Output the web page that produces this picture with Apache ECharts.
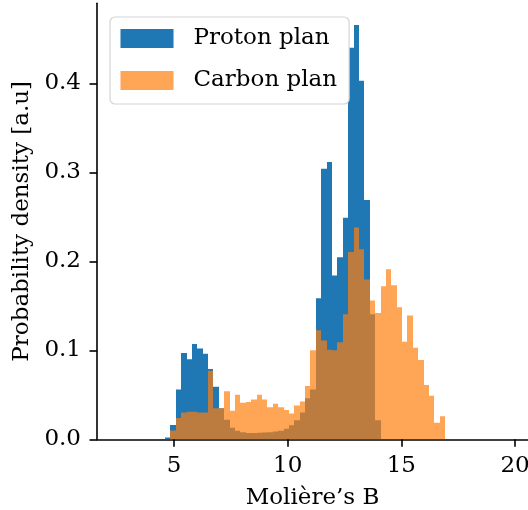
<!DOCTYPE html>
<html>
<head>
<meta charset="utf-8">
<script src="https://cdn.jsdelivr.net/npm/echarts@6/dist/echarts.min.js"></script>
<style>
  html, body { margin: 0; padding: 0; background: #fff; }
  #chart { width: 528px; height: 510px; }
</style>
</head>
<body>
<div id="chart"></div>
<script>
// Histogram bin edges (Molière's B)
const binEdges = [4.604, 4.841, 5.078, 5.315, 5.552, 5.789, 6.026, 6.263, 6.500, 6.737,
  6.974, 7.211, 7.448, 7.685, 7.922, 8.159, 8.396, 8.633, 8.870, 9.107,
  9.344, 9.581, 9.818, 10.055, 10.292, 10.529, 10.766, 11.003, 11.240, 11.477,
  11.714, 11.951, 12.188, 12.425, 12.662, 12.899, 13.136, 13.373, 13.610, 13.847,
  14.084, 14.321, 14.558, 14.795, 15.032, 15.269, 15.506, 15.743, 15.980, 16.217,
  16.454, 16.691, 16.928];

const protonDensity = [0.002, 0.016, 0.056, 0.097, 0.090, 0.107, 0.102, 0.096, 0.079, 0.059,
  0.035, 0.022, 0.013, 0.0095, 0.008, 0.0072, 0.0072, 0.0073, 0.0076, 0.008,
  0.0088, 0.0097, 0.0118, 0.0157, 0.0215, 0.030, 0.046, 0.056, 0.1586, 0.304,
  0.3115, 0.184, 0.2046, 0.2488, 0.44, 0.4655, 0.403, 0.269, 0.1405, 0.0215,
  0, 0, 0, 0, 0, 0, 0, 0, 0, 0, 0, 0];

const carbonDensity = [0, 0.010, 0.024, 0.030, 0.031, 0.031, 0.030, 0.030, 0.077, 0.035,
  0.035, 0.054, 0.032, 0.050, 0.041, 0.042, 0.0446, 0.050, 0.0446, 0.036,
  0.040, 0.036, 0.033, 0.029, 0.038, 0.0426, 0.060, 0.100, 0.1225, 0.111,
  0.1005, 0.100, 0.109, 0.1405, 0.2104, 0.238, 0.2135, 0.1796, 0.156, 0.142,
  0.172, 0.191, 0.173, 0.1485, 0.1095, 0.139, 0.103, 0.089, 0.061, 0.049,
  0.0187, 0.026];

const seriesNames = ['Proton plan', 'Carbon plan'];
const xTicks = [5, 10, 15, 20];
const yTicks = [0, 0.1, 0.2, 0.3, 0.4];

const FONT = 'DejaVu Serif';
const FS = 23;
const BLUE = '#1f77b4';
const ORANGE = 'rgba(255,127,14,0.7)';

function toBins(values) {
  const out = [];
  for (let i = 0; i < values.length; i++) {
    out.push([binEdges[i], binEdges[i + 1], values[i]]);
  }
  return out;
}

function makeRender(color) {
  return function (params, api) {
    const x0 = api.value(0), x1 = api.value(1), y = api.value(2);
    if (!(y > 0)) return null;
    const pTop = api.coord([x0, y]);
    const pBot = api.coord([x1, 0]);
    const left = Math.round(pTop[0]);
    const right = Math.round(pBot[0]);
    return {
      type: 'rect',
      shape: { x: left, y: pTop[1], width: right - left, height: pBot[1] - pTop[1] },
      style: { fill: color }
    };
  };
}

const chart = echarts.init(document.getElementById('chart'), null, { renderer: 'canvas' });

const axisCommon = {
  type: 'value',
  splitLine: { show: false },
  axisLine: { show: true, onZero: false, lineStyle: { color: '#000', width: 1.6 } },
  axisTick: { show: true, length: 7.5, lineStyle: { color: '#000', width: 1.6 } },
  nameTextStyle: { fontFamily: FONT, fontSize: FS, color: '#000' }
};

const option = {
  animation: false,
  backgroundColor: '#fff',
  grid: { left: 97, right: 0, top: 3.3, bottom: 70.7, containLabel: false, outerBoundsMode: 'none' },
  legend: {
    orient: 'vertical',
    left: 110,
    top: 17,
    icon: 'rect',
    itemWidth: 53,
    itemHeight: 19,
    itemGap: 19,
    padding: [10, 12, 12, 10.5],
    backgroundColor: '#fff',
    borderColor: '#d4d4d4',
    borderWidth: 1.2,
    borderRadius: 5,
    textStyle: { fontFamily: FONT, fontSize: FS, color: '#000', padding: [0, 0, 0, 15] },
    data: [
      { name: seriesNames[0], itemStyle: { color: BLUE } },
      { name: seriesNames[1], itemStyle: { color: ORANGE } }
    ]
  },
  xAxis: Object.assign({}, axisCommon, {
    min: 1.614,
    max: 20.57,
    name: 'Molière\u2019s B',
    nameLocation: 'middle',
    nameGap: 47,
    axisTick: Object.assign({}, axisCommon.axisTick, { customValues: xTicks }),
    axisLabel: { customValues: xTicks, fontFamily: FONT, fontSize: FS, color: '#000', margin: 15 }
  }),
  yAxis: Object.assign({}, axisCommon, {
    min: 0,
    max: 0.4899,
    name: 'Probability density [a.u]',
    nameLocation: 'middle',
    nameGap: 60,
    nameRotate: 90,
    axisTick: Object.assign({}, axisCommon.axisTick, { customValues: yTicks }),
    axisLabel: {
      customValues: yTicks, fontFamily: FONT, fontSize: FS, color: '#000', margin: 16,
      formatter: function (v) { return v.toFixed(1); }
    }
  }),
  series: [
    {
      name: seriesNames[0],
      type: 'custom',
      renderItem: makeRender(BLUE),
      itemStyle: { color: BLUE },
      encode: { x: [0, 1], y: 2 },
      clip: true,
      data: toBins(protonDensity),
      z: 2
    },
    {
      name: seriesNames[1],
      type: 'custom',
      renderItem: makeRender(ORANGE),
      itemStyle: { color: ORANGE },
      encode: { x: [0, 1], y: 2 },
      clip: true,
      data: toBins(carbonDensity),
      z: 3
    }
  ]
};

chart.setOption(option);
</script>
</body>
</html>
